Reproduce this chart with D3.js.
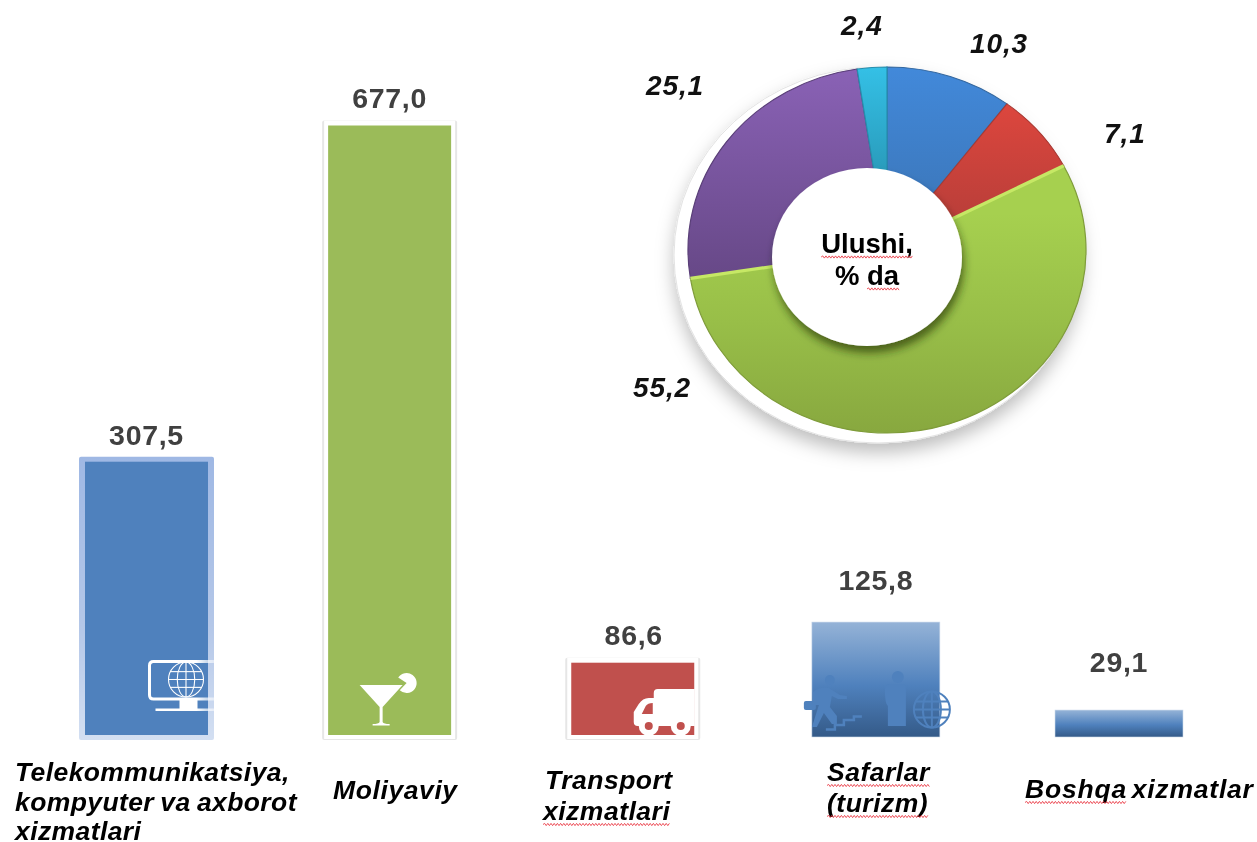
<!DOCTYPE html>
<html><head><meta charset="utf-8">
<script src="https://cdn.jsdelivr.net/npm/d3@7/dist/d3.min.js"></script>
<style>
html,body{margin:0;padding:0;background:#fff}
svg{display:block;filter:blur(0.35px)}
text{font-family:"Liberation Sans",Arial,sans-serif;font-weight:bold}
</style></head><body>
<svg id="c" width="1257" height="842"></svg>
<script>
const barCategories=["Telekommunikatsiya","Moliyaviy","Transport","Safarlar","Boshqa"];
const barValues=[307.5,677.0,86.6,125.8,29.1];
const barLabels=["307,5","677,0","86,6","125,8","29,1"];
const sliceValues=[10.3,7.1,55.2,25.1,2.4];
const sliceLabels=["10,3","7,1","55,2","25,1","2,4"];
const categoryLines=[
 [[["Telekommunikatsiya,",0]],[["kompyuter va axborot",0]],[["xizmatlari",0]]],
 [[["Moliyaviy",0]]],
 [[["Transport",0]],[["xizmatlari",1]]],
 [[["Safarlar",1]],[["(turizm)",1]]],
 [[["Boshqa",1],[" xizmatlar",0]]]
];
const centerLines=[[["Ulushi,",1]],[["% ",0],["da",1]]];

const svg=d3.select("#c");
const defs=svg.append("defs");
const x=d3.scalePoint().domain(barCategories).range([146.5,1119]);
const y=d3.scaleLinear().domain([0,677]).range([736.5,120.5]);
const barFill=["#4f81bd","#9bbb59","#c0504d"];

function grad(id,stops,y1,y2){
 const g=defs.append("linearGradient").attr("id",id).attr("gradientUnits","userSpaceOnUse")
  .attr("x1",0).attr("x2",0).attr("y1",y1).attr("y2",y2);
 stops.forEach(s=>g.append("stop").attr("offset",s[0]).attr("stop-color",s[1]));
}
barCategories.slice(3).forEach((c,i)=>{
 const v=barValues[i+3];
 grad("bg"+i,[[0,"#95b3d7"],[.55,"#4f81bd"],[1,"#345a88"]],y(v),737);
});
grad("f0",[[0,"#9fb8e4"],[.6,"#b4c7e8"],[1,"#d3dff2"]],y(barValues[0]),740);
const shadow=defs.append("filter").attr("id","plate").attr("x","-20%").attr("y","-20%").attr("width","140%").attr("height","140%");
shadow.append("feDropShadow").attr("dx",0).attr("dy",9).attr("stdDeviation",9).attr("flood-color","#000").attr("flood-opacity",.26);
const hs=defs.append("filter").attr("id","hole").attr("x","-30%").attr("y","-30%").attr("width","160%").attr("height","160%");
hs.append("feDropShadow").attr("dx",2).attr("dy",7).attr("stdDeviation",4).attr("flood-color","#1c2a05").attr("flood-opacity",.62);

// bars
const bw=123, fw=6;
barCategories.forEach((c,i)=>{
 const cx=x(c), top=y(barValues[i]);
 if(i<3){
  if(i===0){
   svg.append("rect").attr("x",cx-bw/2-fw).attr("y",top).attr("width",bw+2*fw).attr("height",740-top).attr("rx",2).attr("fill","url(#f0)");
  } else {
   svg.append("rect").attr("x",cx-bw/2-fw).attr("y",top).attr("width",bw+2*fw).attr("height",740-top).attr("rx",2).attr("fill","#e6e6e6");
   svg.append("rect").attr("x",cx-bw/2-fw+2).attr("y",top).attr("width",bw+2*fw-4).attr("height",739-top).attr("fill","#fff");
  }
  svg.append("rect").attr("x",cx-bw/2).attr("y",top+5).attr("width",bw).attr("height",735-top-5).attr("fill",barFill[i]);
 } else {
  svg.append("rect").attr("x",cx-64).attr("y",top).attr("width",128).attr("height",737-top)
   .attr("fill",`url(#bg${i-3})`).attr("stroke","#cfdcec").attr("stroke-width",.6);
 }
});

function globe(g,cx,cy,r,col,sw){
 const p=g.append("g").attr("fill","none").attr("stroke",col).attr("stroke-width",sw);
 p.append("circle").attr("cx",cx).attr("cy",cy).attr("r",r);
 p.append("ellipse").attr("cx",cx).attr("cy",cy).attr("rx",r*.5).attr("ry",r);
 p.append("line").attr("x1",cx).attr("x2",cx).attr("y1",cy-r).attr("y2",cy+r);
 [-.45,0,.45].forEach(k=>{const w=Math.sqrt(1-k*k)*r;
  p.append("line").attr("x1",cx-w).attr("x2",cx+w).attr("y1",cy+k*r).attr("y2",cy+k*r);});
}
// icons
const ic=svg.append("g");
{const cx=x(barCategories[0]);
 const lg=defs.append("linearGradient").attr("id","mfade").attr("gradientUnits","userSpaceOnUse").attr("x1",cx+50).attr("x2",cx+70).attr("y1",0).attr("y2",0);
 lg.append("stop").attr("offset",0).attr("stop-color","#fff");
 lg.append("stop").attr("offset",1).attr("stop-color","#fff").attr("stop-opacity",.45);
 ic.append("path").attr("d",`M${cx+70},661.5 H${cx+7} q-4,0 -4,4 V695 q0,4 4,4 H${cx+70}`).attr("fill","none").attr("stroke","url(#mfade)").attr("stroke-width",3);
 ic.append("rect").attr("x",cx+33).attr("y",700).attr("width",18).attr("height",9).attr("fill","#fff");
 ic.append("rect").attr("x",cx+9).attr("y",708.5).attr("width",61).attr("height",2.5).attr("fill","url(#mfade)");
 globe(ic,cx+39.5,679.5,17.5,"#fff",1.1);
}
{const cx=x(barCategories[1]);
 ic.append("path").attr("d",`M${cx-30},685 H${cx+13} L${cx-7},707 V722 q1,2 7,2 V725.5 H${cx-17} V724 q6,0 7,-2 V707 Z`).attr("fill","#fff");
 ic.append("path").attr("d",d3.arc()({innerRadius:0,outerRadius:10,startAngle:-1.0,endAngle:3.9})).attr("transform",`translate(${cx+17},683)`).attr("fill","#fff");
}
{const cx=x(barCategories[2]);
 const red=barFill[2];
 ic.append("path").attr("d",`M${cx+62},689 H${cx+25} q-4,0 -4,4 V698 H${cx+16} Q${cx+10},698 ${cx+6},704 L${cx+1},712 V722 q0,4 4,4 H${cx+62} Z`).attr("fill","#fff");
 ic.append("path").attr("d",`M${cx+20},703 V714 H${cx+9} L${cx+13},706 Q${cx+15},703 ${cx+20},703Z`).attr("fill",red);
 [16,48].forEach(d=>{
  ic.append("circle").attr("cx",cx+d).attr("cy",726).attr("r",10).attr("fill","#fff");
  ic.append("circle").attr("cx",cx+d).attr("cy",726).attr("r",4).attr("fill",red);
 });
}
{const cx=x(barCategories[3]), col="#4f81bd";
 const t=ic.append("g").attr("fill",col);
 t.append("circle").attr("cx",cx-46).attr("cy",680).attr("r",5);
 t.append("rect").attr("x",cx-72).attr("y",701).attr("width",12).attr("height",9).attr("rx",2);
 t.append("path").attr("d",`M${cx-63},692 Q${cx-56},686 ${cx-47},688 L${cx-36},695 L${cx-29},696 V699 L${cx-38},699 L${cx-44},696 L${cx-46},707 L${cx-39},716 V724 H${cx-44} L${cx-52},713 L${cx-59},727 H${cx-64} L${cx-57},705 L${cx-63},705 Z`);
 t.append("path").attr("d",`M${cx-50},729.5 H${cx-41} V725 H${cx-32} V720 H${cx-22} V716.5 H${cx-14}`).attr("fill","none").attr("stroke",col).attr("stroke-width",2.5);
 t.append("circle").attr("cx",cx+22).attr("cy",677).attr("r",6);
 t.append("path").attr("d",`M${cx+13},684 H${cx+28} Q${cx+30},684 ${cx+30},690 V726 H${cx+12} L${cx+12},706 Q${cx+9},704 ${cx+9},690 Q${cx+9},684 ${cx+13},684Z`);
 globe(ic,cx+56,709.5,18,col,2);
}

// value labels
const lblBase=[445,108,645,590,672];
barLabels.forEach((l,i)=>{
 svg.append("text").attr("x",x(barCategories[i])+(i===2?1:0)).attr("y",lblBase[i]).attr("text-anchor","middle")
  .attr("font-size",28.5).style("letter-spacing","0.7px").attr("fill","#404040").text(l);
});

// category labels with spell-check squiggles
function squiggle(parent,x1,x2,yy){
 let d=`M${x1},${yy}`, up=true;
 for(let px=x1+1.6;px<x2;px+=1.6){d+=`L${px},${yy+(up?-1.1:1.1)}`;up=!up;}
 parent.append("path").attr("d",d).attr("fill","none").attr("stroke","#ea3a45").attr("stroke-width",.9);
}
function writeLines(parent,lines,xs,ys,anchor,size,sp,ws,italic,fill,off){
 lines.forEach((ln,i)=>{
  const t=parent.append("text").attr("x",Array.isArray(xs)?xs[i]:xs).attr("y",ys[i]).attr("font-size",size)
   .attr("text-anchor",anchor).attr("fill",fill).style("letter-spacing",sp+"px").style("word-spacing",ws+"px")
   .style("font-style",italic?"italic":"normal").style("white-space","pre");
  const spans=ln.map(seg=>t.append("tspan").text(seg[0]));
  ln.forEach((seg,j)=>{
   if(!seg[1])return;
   const n=spans[j].node(), c=seg[0].length;
   squiggle(parent,n.getStartPositionOfChar(0).x,n.getEndPositionOfChar(c-1).x,ys[i]+off);
  });
 });
}
const catX=[15,333,[545,543],[827,827],1025];
const catY=[[781,811,840],[799],[789,820],[781,812],[798]];
const catSp=[.4,.6,.5,.5,.8], catWs=[-1.5,0,0,0,-3.5];
categoryLines.forEach((ls,i)=>writeLines(svg,ls,catX[i],catY[i],"start",26.5,catSp[i],catWs[i],true,"#000",4.5));

// donut
const cx=887, cy=250, R=199, sy=183/199;
svg.append("ellipse").attr("cx",cx-9).attr("cy",cy+5).attr("rx",R+5).attr("ry",R*sy+5).attr("fill","#fff").attr("stroke","#e3e3e3").attr("stroke-width",1).attr("filter","url(#plate)");
grad("sl0",[[0,"#4289da"],[1,"#3a72b2"]],-R,0);
grad("sl1",[[0,"#e8493f"],[1,"#b03c38"]],-R,0);
grad("sl2",[[0,"#a6d04f"],[.5,"#98be48"],[1,"#88a83f"]],-R*.2,R);
grad("sl3",[[0,"#8a62b6"],[1,"#644683"]],-R,R*.25);
grad("sl4",[[0,"#34c0e6"],[1,"#2a9dbd"]],-R,-90);
const sliceEdge=["#33679f","#a83a34","#7f9c3a","#5a3f78","#258fae"];
const arcs=d3.pie().sort(null)(sliceValues);
const arc=d3.arc().innerRadius(0).outerRadius(R);
const dg=svg.append("g").attr("transform",`translate(${cx},${cy}) scale(1,${sy})`);
dg.selectAll("path").data(arcs).join("path").attr("d",arc).attr("fill",(d,i)=>`url(#sl${i})`)
 .attr("stroke",(d,i)=>sliceEdge[i]).attr("stroke-width",1.2);
const green=arcs[2];
[green.startAngle,green.endAngle].forEach(a=>{
 dg.append("line").attr("x1",0).attr("y1",0).attr("x2",R*Math.sin(a)).attr("y2",-R*Math.cos(a))
  .attr("stroke","#c6e865").attr("stroke-width",3.5);
});
svg.append("ellipse").attr("cx",867).attr("cy",257).attr("rx",95).attr("ry",89).attr("fill","#fff").attr("filter","url(#hole)");
const sliceLblX=[970,1104,633,646,841], sliceLblY=[53,143,397,95,35];
sliceLabels.forEach((l,i)=>{
 svg.append("text").attr("x",sliceLblX[i]).attr("y",sliceLblY[i]).attr("font-size",28)
  .style("font-style","italic").style("letter-spacing","0.9px").attr("fill","#111").text(l);
});
writeLines(svg,centerLines,867,[253,285],"middle",27.5,0,0,false,"#000",4);
</script>
</body></html>
